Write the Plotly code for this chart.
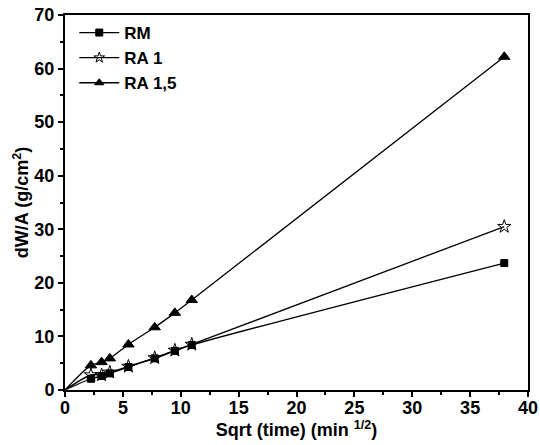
import plotly.graph_objects as go

x_vals = [0, 2.24, 3.16, 3.87, 5.48, 7.75, 9.49, 10.95, 37.95]
rm = [0, 2.1, 2.6, 3.1, 4.3, 5.9, 7.3, 8.4, 23.7]
ra1 = [0, 2.8, 2.8, 3.3, 4.4, 6.0, 7.4, 8.5, 30.5]
ra15 = [0, 4.6, 5.2, 5.9, 8.5, 11.7, 14.4, 16.8, 62.2]
names = ["RM", "RA 1", "RA 1,5"]
symbols = ["square", "star-open", "triangle-up"]
plot_sizes = [7, 10, 10]
legend_sizes = [7, 8, 8]

fig = go.Figure()
for name, ys, sym, ps, ls in zip(names, [rm, ra1, ra15], symbols, plot_sizes, legend_sizes):
    fig.add_trace(go.Scatter(
        x=x_vals, y=ys, mode="lines", line=dict(color="black", width=1.3, shape="spline", smoothing=0.8),
        showlegend=False, hoverinfo="skip"))
    fig.add_trace(go.Scatter(
        x=x_vals[1:], y=ys[1:], mode="markers", showlegend=False, name=name,
        marker=dict(symbol=sym, color="black", size=ps, line=dict(color="black", width=1))))
    fig.add_trace(go.Scatter(
        x=[None], y=[None], mode="lines+markers", name=name,
        marker=dict(symbol=sym, color="black", size=ls, line=dict(color="black", width=1)),
        line=dict(color="black", width=1.3)))

tickfont = dict(family="Liberation Sans", size=18, color="black", weight="bold")
axis_common = dict(
    showline=True, linecolor="black", linewidth=2, mirror=True,
    ticks="outside", ticklen=5, tickwidth=1.5, tickcolor="black",
    showgrid=False, zeroline=False, automargin=False,
    ticklabeloverflow="allow", tickfont=tickfont,
)
fig.update_layout(
    width=540, height=445,
    margin=dict(l=65, r=12, t=15, b=55),
    plot_bgcolor="white", paper_bgcolor="white",
    font=dict(family="Liberation Sans", color="black", weight="bold"),
    xaxis=dict(range=[0, 40], dtick=5, ticklabelstandoff=-5,
               minor=dict(dtick=2.5, ticks="outside", ticklen=3, tickcolor="black"),
               title=dict(text="Sqrt (time) (min <sup>1/2</sup>)", font=dict(size=18, weight="bold"), standoff=0),
               **axis_common),
    yaxis=dict(range=[0, 70], dtick=10,
               minor=dict(dtick=5, ticks="outside", ticklen=3, tickcolor="black"),
               title=dict(text="dW/A (g/cm<sup>2</sup>)", font=dict(size=18, weight="bold"), standoff=1),
               **axis_common),
    legend=dict(x=0.02, y=1.0, xanchor="left", yanchor="top", bgcolor="rgba(0,0,0,0)",
                font=dict(size=17, weight="bold"), tracegroupgap=0, itemwidth=40),
)
fig.write_html("out.html", config={"displayModeBar": False},
               post_script="document.body.style.margin='0px';")
